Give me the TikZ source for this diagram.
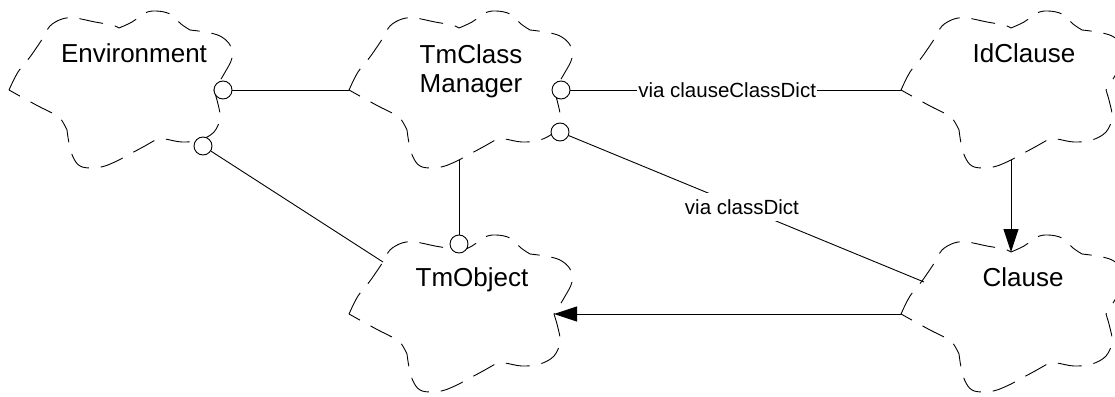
\documentclass[tikz,border=0pt]{standalone}
\usepackage{fontspec}
\setmainfont{Liberation Sans}
\usetikzlibrary{arrows.meta}
\tikzset{
  cloudline/.style={draw=black, line width=0.9pt, dash pattern=on 24pt off 12pt, line join=round},
  conn/.style={draw=black, line width=0.9pt},
  ball/.style={circle, draw=black, fill=white, line width=0.9pt, minimum size=18pt, inner sep=0pt},
  cname/.style={font=\fontsize{26}{29}\selectfont, align=center, inner sep=0pt, anchor=north},
  lbl/.style={font=\fontsize{20.5}{24}\selectfont, fill=white, inner xsep=1pt, inner ysep=6pt},
  tri/.style={-{Triangle[length=23pt,width=15pt]}},
  cloud/.pic={
    \draw[cloudline]
      plot[smooth,tension=0.6] coordinates{(9,90) (18,72) (30,57) (43,38)}
      -- plot[smooth,tension=0.6] coordinates{(43,38) (50,26) (62,19) (75,18) (95,22) (112,25) (119,28)}
      -- plot[smooth,tension=0.6] coordinates{(119,28) (132,22) (145,13) (156,11) (170,14) (181,24) (190,30)}
      -- plot[smooth,tension=0.6] coordinates{(190,30) (205,32) (220,36) (230,45) (232,58) (224,74) (214,90)}
      -- plot[smooth,tension=0.6] coordinates{(214,90) (218,104) (220,118) (214,132) (200,140) (182,142) (165,139) (157,139)}
      -- plot[smooth,tension=0.6] coordinates{(157,139) (143,147) (130,154) (119,160)}
      -- plot[smooth,tension=0.6] coordinates{(119,160) (105,166) (92,168) (80,166) (73,157) (69,143) (67,130)}
      -- plot[smooth,tension=0.6] coordinates{(67,130) (60,118) (50,112) (40,107) (27,100) (9,90)}
      -- cycle;
    \coordinate (-L) at (9,90);
    \coordinate (-R) at (214,90);
    \coordinate (-T) at (119,28);
    \coordinate (-B) at (119,160);
    \coordinate (-TL) at (43,38);
    \coordinate (-TLL) at (32,58);
  }
}
\begin{document}
\begin{tikzpicture}[x=1pt,y=-1pt]
\useasboundingbox (0,0) rectangle (1115,396);
\fill[white] (0,0) rectangle (1115,396);

\pic (env) at (0,0) {cloud};
\pic (tcm) at (340,0) {cloud};
\pic (idc) at (892,0) {cloud};
\pic (tmo) at (340,224) {cloud};
\pic (cla) at (892,224) {cloud};

\node[cname] (envN) at (134,43) {Environment};
\node[cname] (tcmN) at (471,44) {TmClass\\Manager};
\node[cname] (idcN) at (1024,43) {IdClause};
\node[cname] (tmoN) at (472,267) {TmObject};
\node[cname] (claN) at (1023,267) {Clause};

\node[ball] (envb1) at (223,90) {};
\node[ball] (envb2) at (203,146) {};
\node[ball] (tcmb1) at (561,90) {};
\node[ball] (tcmb2) at (560,132) {};
\node[ball] (tmob) at (459,244) {};

\draw[conn] (envb1) -- (tcm-L);
\draw[conn] (envb2) -- (tmo-TL);
\draw[conn] (tcmb1) -- node[lbl, pos=0.474] (lab1) {via clauseClassDict} (idc-L);
\draw[conn] (tcmb2) -- node[lbl, pos=0.4875] (lab2) {via classDict} (cla-TLL);
\draw[conn] (tcm-B) -- (tmob);
\draw[conn, tri] (idc-B) -- (cla-T);
\draw[conn, tri] (cla-L) -- (tmo-R);
\end{tikzpicture}
\end{document}
